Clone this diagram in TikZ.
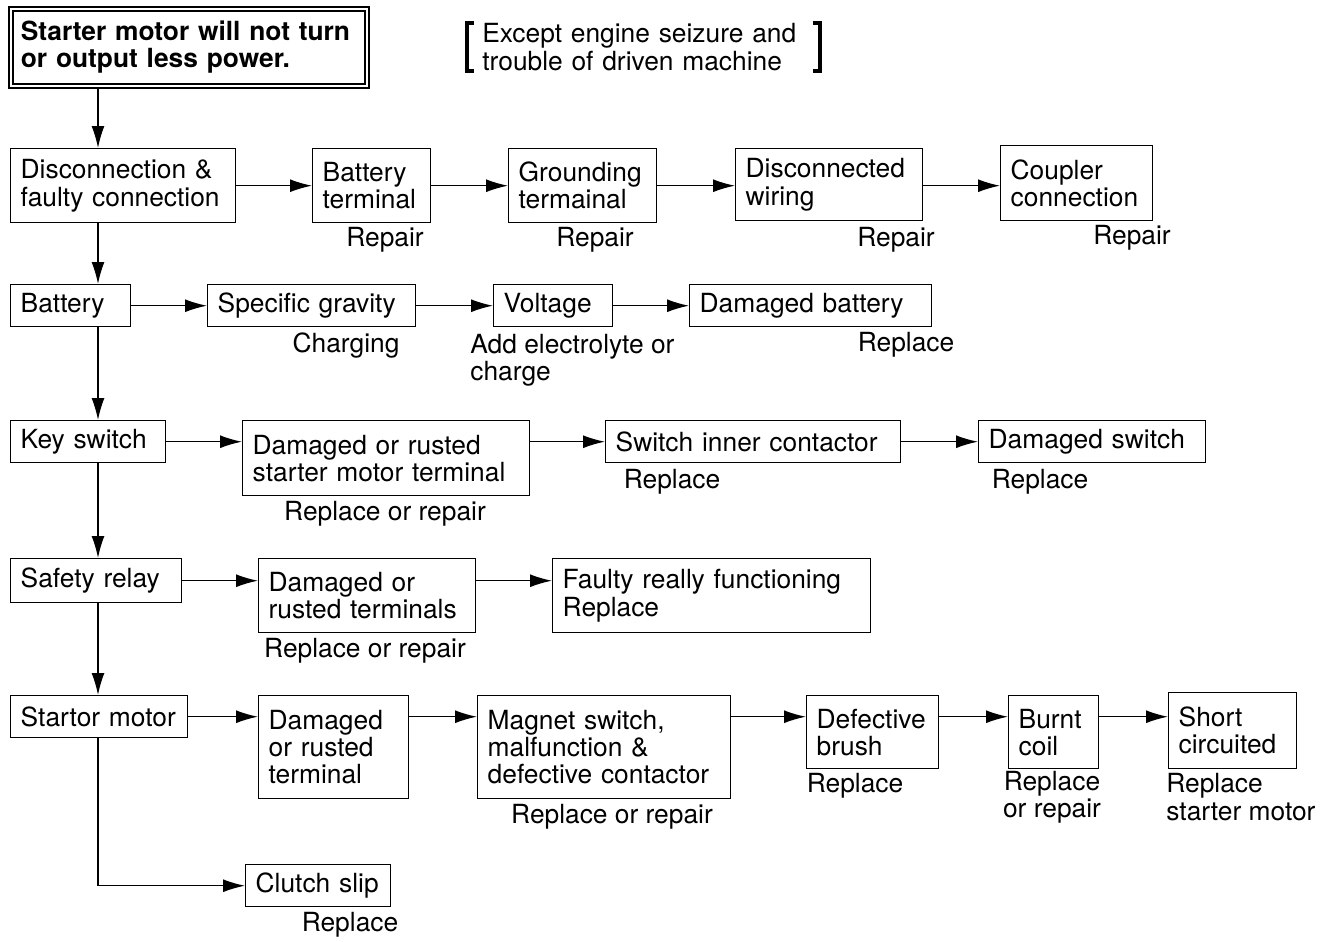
\documentclass[tikz,border=0pt]{standalone}
\usepackage{fontspec}
\setmainfont{TeX Gyre Heros}
\usetikzlibrary{arrows.meta, positioning}
\tikzset{
    box/.style={
        draw, line width=0.8pt, anchor=north west, align=left,
        inner xsep=0.2cm, inner ysep=0pt, font=\fontsize{15}{15.5}\selectfont
    },
    topbox/.style={
        box, double, double distance=1.2pt, line width=1pt,
        font=\fontsize{15}{15.5}\selectfont\bfseries
    },
    remedy/.style={
        inner sep=0pt, align=left, font=\fontsize{15}{15.5}\selectfont
    },
    arrow/.style={
        -{Latex[length=0.44cm, width=0.26cm]}, line width=0.8pt
    },
    bracket/.style={
        line width=2.2pt
    }
}

\begin{document}
\begin{tikzpicture}[x=0.02cm, y=-0.02cm]

    \useasboundingbox (0,0) rectangle (1324,941);
    \coordinate (spine) at (98,0);

    \node[topbox, text width=6.72cm, minimum height=1.54cm] (title) at (10,8) {Starter motor will not turn\\or output less power.};
    \node[remedy, anchor=west, inner xsep=0.3cm, text width=6.44cm] (except) at (467,47) {Except engine seizure and\\trouble of driven machine};
    \draw[bracket] ([xshift=0.14cm]except.north west) -- (except.north west) -- (except.south west) -- ++(7,0);
    \draw[bracket] ([xshift=-0.14cm]except.north east) -- (except.north east) -- (except.south east) -- ++(-7,0);

    \node[box, text width=4.1cm,  minimum height=1.48cm] (disc)    at (10,148)   {Disconnection \&\\faulty connection};
    \node[box, text width=1.96cm, minimum height=1.48cm] (bterm)   at (312,148)  {Battery\\terminal};
    \node[box, text width=2.56cm, minimum height=1.48cm] (ground)  at (508,148)  {Grounding\\termainal};
    \node[box, text width=3.34cm, minimum height=1.44cm] (wiring)  at (735,148)  {Disconnected\\wiring};
    \node[box, text width=2.64cm, minimum height=1.5cm]  (coupler) at (1000,145) {Coupler\\connection};
    \node[remedy] (r-bterm)   at (385,240)  {Repair};
    \node[remedy] (r-ground)  at (595,240)  {Repair};
    \node[remedy] (r-wiring)  at (896,240)  {Repair};
    \node[remedy] (r-coupler) at (1132,238) {Repair};

    \node[box, text width=2.0cm,  minimum height=0.84cm] (battery) at (10,284)  {Battery};
    \node[box, text width=3.76cm, minimum height=0.84cm] (gravity) at (207,284) {Specific gravity};
    \node[box, text width=1.98cm, minimum height=0.84cm] (voltage) at (493,284) {Voltage};
    \node[box, text width=4.44cm, minimum height=0.84cm] (dambatt) at (689,284) {Damaged battery};
    \node[remedy] (r-gravity) at (346,346) {Charging};
    \node[remedy, anchor=west] (r-voltage) at (470,360) {Add electrolyte or\\charge};
    \node[remedy] (r-dambatt) at (906,345) {Replace};

    \node[box, text width=2.7cm,  minimum height=0.84cm] (keysw)   at (10,420)  {Key switch};
    \node[box, text width=5.34cm, minimum height=1.5cm]  (smterm)  at (242,420) {Damaged or rusted\\starter motor terminal};
    \node[box, text width=5.5cm,  minimum height=0.84cm] (contact) at (605,420) {Switch inner contactor};
    \node[box, text width=4.14cm, minimum height=0.84cm] (damsw)   at (978,420) {Damaged switch};
    \node[remedy] (r-smterm)  at (385,514)  {Replace or repair};
    \node[remedy] (r-contact) at (672,482)  {Replace};
    \node[remedy] (r-damsw)   at (1040,482) {Replace};

    \node[box, text width=3.02cm, minimum height=0.88cm] (relay)   at (10,558)  {Safety relay};
    \node[box, text width=3.94cm, minimum height=1.48cm] (rterm)   at (258,558) {Damaged or\\rusted terminals};
    \node[box, text width=5.96cm, minimum height=1.48cm] (relayfn) at (552,558) {Faulty really functioning\\Replace};
    \node[remedy] (r-rterm) at (365,651) {Replace or repair};

    \node[box, text width=3.14cm, minimum height=0.84cm] (motor)  at (10,695)   {Startor motor};
    \node[box, text width=2.6cm,  minimum height=2.06cm] (mterm)  at (258,695)  {Damaged\\or rusted\\terminal};
    \node[box, text width=4.66cm, minimum height=2.06cm] (magnet) at (477,695)  {Magnet switch,\\malfunction \&\\defective contactor};
    \node[box, text width=2.24cm, minimum height=1.46cm] (brush)  at (806,695)  {Defective\\brush};
    \node[box, text width=1.4cm,  minimum height=1.46cm] (coil)   at (1008,695) {Burnt\\coil};
    \node[box, text width=2.16cm, minimum height=1.52cm] (short)  at (1168,692) {Short\\circuited};
    \node[box, text width=2.5cm,  minimum height=0.84cm] (clutch) at (245,864)  {Clutch slip};
    \node[remedy] (r-magnet) at (612,817) {Replace or repair};
    \node[remedy] (r-brush)  at (855,786) {Replace};
    \node[remedy, align=center] (r-coil) at (1052,797) {Replace\\or repair};
    \node[remedy, anchor=west] (r-short) at (1166,797) {Replace\\starter motor};
    \node[remedy] (r-clutch) at (350,925) {Replace};

    \draw[arrow] (title.south -| spine)   -- (disc.north -| spine);
    \draw[arrow] (disc.south -| spine)    -- (battery.north -| spine);
    \draw[arrow] (battery.south -| spine) -- (keysw.north -| spine);
    \draw[arrow] (keysw.south -| spine)   -- (relay.north -| spine);
    \draw[arrow] (relay.south -| spine)   -- (motor.north -| spine);
    \draw[arrow] (motor.south -| spine)   |- (clutch);

    \draw[arrow] (disc)                 -- (bterm.west |- disc);
    \draw[arrow] (bterm.east |- disc)   -- (ground.west |- disc);
    \draw[arrow] (ground.east |- disc)  -- (wiring.west |- disc);
    \draw[arrow] (wiring.east |- disc)  -- (coupler.west |- disc);

    \draw[arrow] (battery) -- (gravity);
    \draw[arrow] (gravity) -- (voltage);
    \draw[arrow] (voltage) -- (dambatt);

    \draw[arrow] (keysw)                -- (smterm.west |- keysw);
    \draw[arrow] (smterm.east |- keysw) -- (contact);
    \draw[arrow] (contact)              -- (damsw);

    \draw[arrow] (relay)                -- (rterm.west |- relay);
    \draw[arrow] (rterm.east |- relay)  -- (relayfn.west |- relay);

    \draw[arrow] (motor)                -- (mterm.west |- motor);
    \draw[arrow] (mterm.east |- motor)  -- (magnet.west |- motor);
    \draw[arrow] (magnet.east |- motor) -- (brush.west |- motor);
    \draw[arrow] (brush.east |- motor)  -- (coil.west |- motor);
    \draw[arrow] (coil.east |- motor)   -- (short.west |- motor);

\end{tikzpicture}
\end{document}
